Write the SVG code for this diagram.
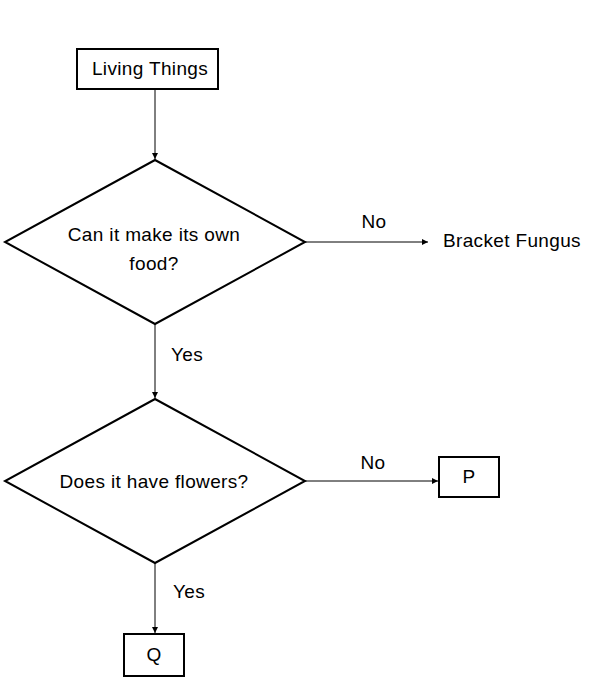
<svg xmlns="http://www.w3.org/2000/svg" width="598" height="693" viewBox="0 0 598 693">
<style>
  text { font-family: "Liberation Sans", Arial, sans-serif; font-size: 19px; letter-spacing: 0.35px; fill: #000; }
  .box { fill: #fff; stroke: #000; stroke-width: 2; }
  .conn { stroke: #000; stroke-width: 1; fill: none; }
</style>
<defs>
  <marker id="arr" viewBox="0 0 10 10" refX="10" refY="5" markerWidth="9" markerHeight="6" markerUnits="userSpaceOnUse" orient="auto">
    <path d="M0,0 L10,5 L0,10 z" fill="#000"/>
  </marker>
</defs>
<rect width="598" height="693" fill="#fff"/>
<g id="connectors">
  <line class="conn" x1="155" y1="89" x2="155" y2="159" marker-end="url(#arr)"/>
  <line class="conn" x1="305" y1="242" x2="428" y2="242" marker-end="url(#arr)"/>
  <line class="conn" x1="155" y1="324" x2="155" y2="398" marker-end="url(#arr)"/>
  <line class="conn" x1="305" y1="481" x2="438" y2="481" marker-end="url(#arr)"/>
  <line class="conn" x1="155" y1="563" x2="155" y2="633" marker-end="url(#arr)"/>
  <text x="374" y="228" text-anchor="middle">No</text>
  <text x="171" y="361">Yes</text>
  <text x="373" y="469" text-anchor="middle">No</text>
  <text x="173" y="598">Yes</text>
</g>
<g id="living-things">
  <rect class="box" x="77" y="49" width="141" height="40"/>
  <text x="150" y="75" text-anchor="middle">Living Things</text>
</g>
<g id="q-food">
  <polygon class="box" points="155,160 305,242 155,324 5,242"/>
  <text x="154" y="241" text-anchor="middle">Can it make its own</text>
  <text x="154" y="270" text-anchor="middle">food?</text>
</g>
<g id="bracket-fungus">
  <text x="443" y="247">Bracket Fungus</text>
</g>
<g id="q-flowers">
  <polygon class="box" points="155,399 305,481 155,563 5,481"/>
  <text x="154" y="488" text-anchor="middle">Does it have flowers?</text>
</g>
<g id="p">
  <rect class="box" x="439" y="457" width="60" height="40"/>
  <text x="469" y="483" text-anchor="middle">P</text>
</g>
<g id="q">
  <rect class="box" x="124" y="634" width="60" height="42"/>
  <text x="154" y="661" text-anchor="middle">Q</text>
</g>
</svg>
